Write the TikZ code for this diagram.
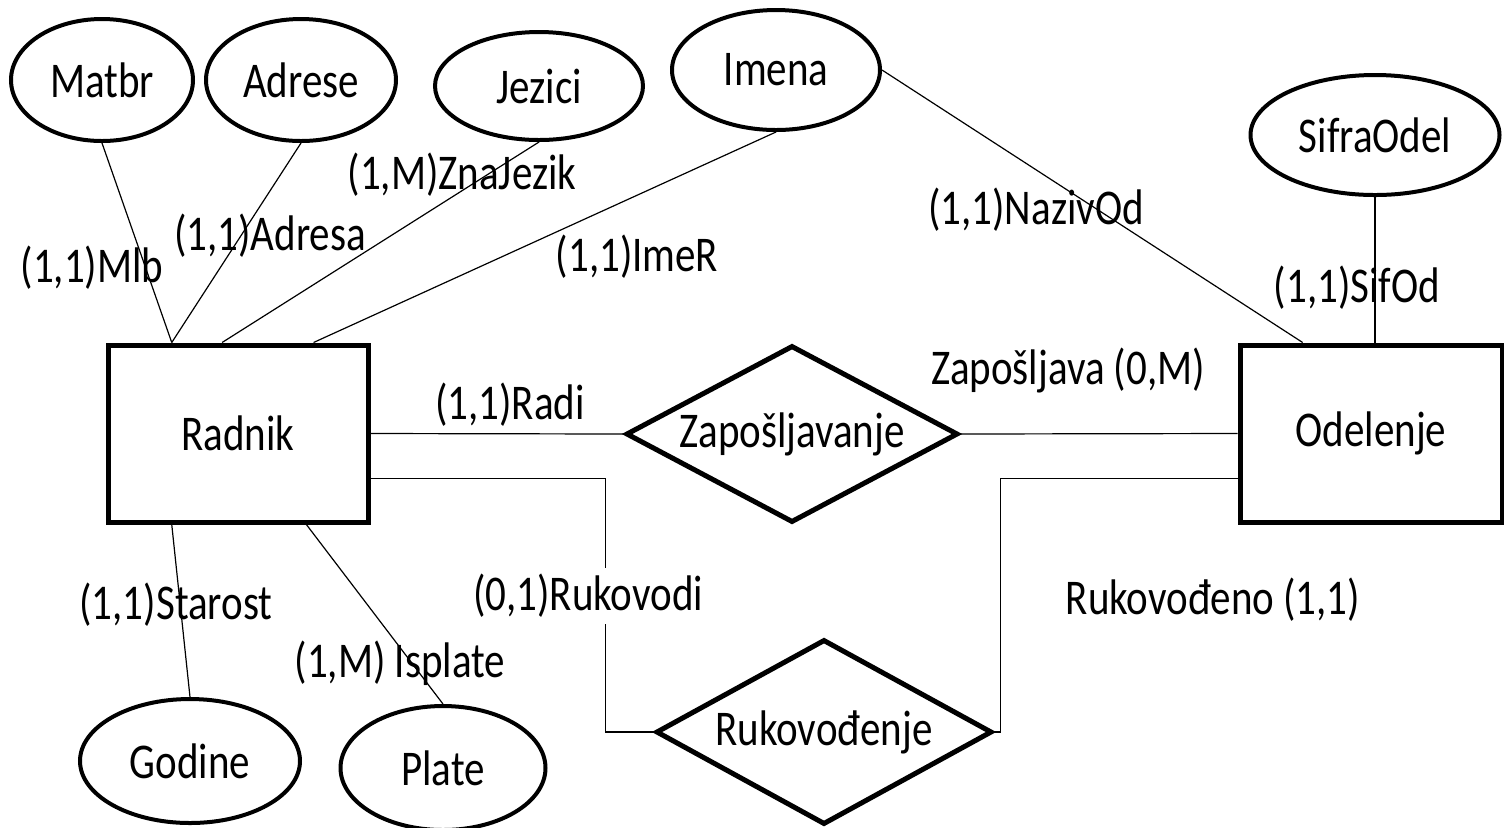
\documentclass[tikz,border=0pt]{standalone}
\usepackage{fontspec}
\setmainfont{Carlito}[FakeStretch=0.82]
\usetikzlibrary{shapes.geometric,calc}
\begin{document}
\begin{tikzpicture}[x=0.5pt,y=-0.5pt,
  every node/.style={font=\fontsize{25pt}{30pt}\selectfont},
  entity/.style={draw,line width=2.5pt,minimum height=88.5pt,inner sep=0pt},
  attr/.style={draw,ellipse,line width=2pt,inner sep=0pt},
  rel/.style={draw,diamond,line width=2.5pt,inner sep=0pt},
  link/.style={line width=0.6pt},
  lab/.style={inner sep=0pt}]
\useasboundingbox (0,0) rectangle (1504,827);

% entities
\node[entity,minimum width=130pt] (rad) at (238,433.5) {Radnik};
\node[entity,minimum width=131pt] (ode) at (1371,433.5) {Odelenje};

% relationships
\node[rel,aspect=1.876,minimum width=166pt,minimum height=88.5pt] (zap) at (792,434) {Zapošljavanje};
\node[rel,aspect=1.816,minimum width=168pt,minimum height=92.5pt] (ruk) at (824,732) {Rukovođenje};

% attributes
\node[attr,minimum width=91pt,minimum height=61pt] (mat) at (102,80) {Matbr};
\node[attr,minimum width=95pt,minimum height=61pt] (adr) at (301,80) {Adrese};
\node[attr,minimum width=104pt,minimum height=54pt] (jez) at (539,86) {Jezici};
\node[attr,minimum width=104pt,minimum height=60pt] (ime) at (776,70) {Imena};
\node[attr,minimum width=124.5pt,minimum height=60pt] (sif) at (1375,135) {SifraOdel};
\node[attr,minimum width=110pt,minimum height=62pt] (god) at (190,761) {Godine};
\node[attr,minimum width=102.5pt,minimum height=62pt] (pla) at (443,768) {Plate};

% attribute links
\draw[link] (mat.south) -- ($(rad.north west)!0.25!(rad.north east)$);
\draw[link] (adr.south) -- ($(rad.north west)!0.25!(rad.north east)$);
\draw[link] (jez.south) -- ($(rad.north west)!0.44!(rad.north east)$);
\draw[link] (ime.south) -- ($(rad.north west)!0.785!(rad.north east)$);
\draw[link] (ime.east) -- ($(ode.north west)!0.244!(ode.north east)$);
\draw[link] (sif.south) -- (sif.south |- ode.north);
\draw[link] (god.north) -- ($(rad.south west)!0.25!(rad.south east)$);
\draw[link] (pla.north) -- ($(rad.south west)!0.758!(rad.south east)$);

% relationship links
\draw[link] (rad.east) -- (zap.west);
\draw[link] (zap.east) -- (ode.west);
\draw[link] ($(rad.east)+(0,45)$) -| ($(ruk.west)+(-48,0)$) -- (ruk.west);
\draw[link] ($(ode.west)+(0,45)$) -| ($(ruk.east)+(6,0)$) -- (ruk.east);

% cardinality labels
\node[lab] (lmlb) at (92,268) {(1,1)Mlb};
\node[lab] (ladr) at (270,236) {(1,1)Adresa};
\node[lab] (ljez) at (462,175) {(1,M)ZnaJezik};
\node[lab] (lime) at (637,257) {(1,1)ImeR};
\node[lab] (lnaz) at (1036,210) {(1,1)NazivOd};
\node[lab] (lsif) at (1357,288) {(1,1)SifOd};
\node[lab] (lzap) at (1068,370) {Zapošljava (0,M)};
\node[lab] (lrad) at (510,405) {(1,1)Radi};
\node[lab,fill=white,inner sep=3pt] (lruk) at (588,596) {(0,1)Rukovodi};
\node[lab] (lsta) at (176,605) {(1,1)Starost};
\node[lab] (lisp) at (400,663) {(1,M) Isplate};
\node[lab] (lrkd) at (1213,600) {Rukovođeno (1,1)};
\end{tikzpicture}
\end{document}
